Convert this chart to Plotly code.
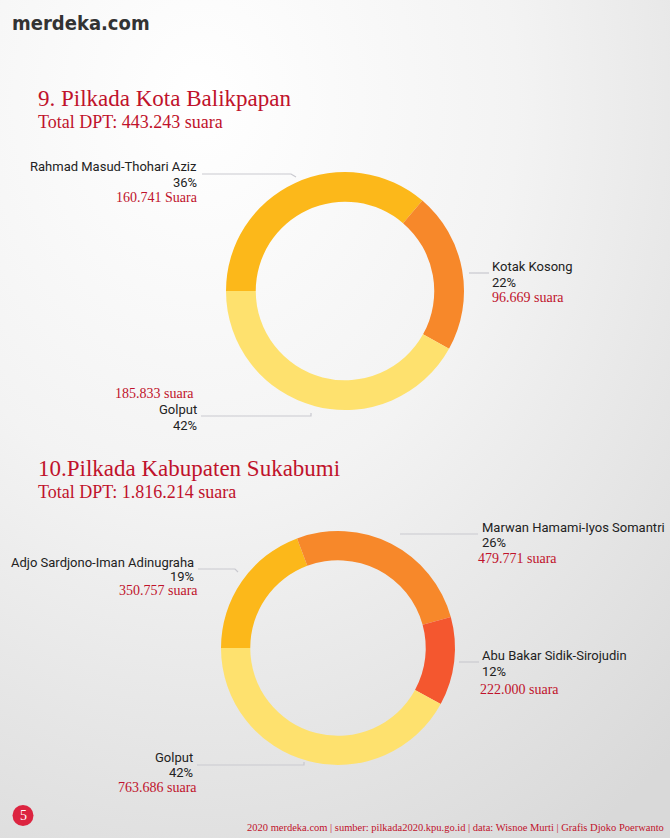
import base64
import plotly.graph_objects as go

# ---------------- data ----------------
kota_title = "9. Pilkada Kota Balikpapan"
kota_labels = ["Rahmad Masud-Thohari Aziz", "Kotak Kosong", "Golput"]
kota_votes = [160741, 96669, 185833]
kota_suffix = ["Suara", "suara", "suara"]
kota_colors = ["#FCB81A", "#F7882A", "#FEE16E"]

suka_title = "10.Pilkada Kabupaten Sukabumi"
suka_labels = ["Adjo Sardjono-Iman Adinugraha", "Marwan Hamami-Iyos Somantri",
               "Abu Bakar Sidik-Sirojudin", "Golput"]
suka_votes = [350757, 479771, 222000, 763686]
suka_suffix = ["suara", "suara", "suara", "suara"]
suka_colors = ["#FCB81A", "#F7882A", "#F4572F", "#FEE16E"]

footer_text = ("2020 merdeka.com | sumber: pilkada2020.kpu.go.id | data: Wisnoe Murti | "
               "Grafis Djoko Poerwanto")
page_number = "5"

# ---------------- helpers ----------------
W, H = 670, 838
RED = "#C0122B"
DARK = "#222222"
SANS = "Roboto, Inter, Noto Sans, sans-serif"
SERIF = "Liberation Serif, DejaVu Serif, serif"
LAB = 13
VOTE = 14


def fx(px):
    return px / W


def fy(py):
    return 1 - py / H


def fmt(v):
    return f"{v:,}".replace(",", ".")


def pct(values):
    t = sum(values)
    return [f"{round(v * 100 / t)}%" for v in values]


annotations = []
shapes = []


def txt(text, x, y, anchor, size, color, family):
    annotations.append(dict(text=text, x=fx(x), y=fy(y), xref="paper", yref="paper",
                            xanchor=anchor, yanchor="middle", showarrow=False,
                            borderpad=0, font=dict(size=size, color=color, family=family)))


def leader(points):
    path = "M " + " L ".join(f"{fx(x)},{fy(y)}" for x, y in points)
    shapes.append(dict(type="path", path=path, xref="paper", yref="paper",
                       line=dict(color="#C9C9CF", width=1.2)))


def domain(cx, cy, r):
    return dict(x=[fx(cx - r), fx(cx + r)], y=[fy(cy + r), fy(cy - r)])


fig = go.Figure()

fig.add_trace(go.Pie(labels=kota_labels, values=kota_votes, hole=0.75, sort=False,
                     direction="clockwise", rotation=270, textinfo="none",
                     hoverinfo="label+value+percent",
                     marker=dict(colors=kota_colors, line=dict(width=0)),
                     domain=domain(345, 291, 119), showlegend=False))

fig.add_trace(go.Pie(labels=suka_labels, values=suka_votes, hole=0.75, sort=False,
                     direction="clockwise", rotation=270, textinfo="none",
                     hoverinfo="label+value+percent",
                     marker=dict(colors=suka_colors, line=dict(width=0)),
                     domain=domain(338, 648, 117), showlegend=False))

# header logo
txt("<b>merdeka.com</b>", 11, 23, "left", 20, "#333333",
    "DejaVu Sans Condensed, sans-serif")

# titles
txt(kota_title, 37, 99, "left", 23, RED, SERIF)
txt(f"Total DPT: {fmt(sum(kota_votes))} suara", 37, 122, "left", 18, RED, SERIF)
txt(suka_title, 37, 468, "left", 23, RED, SERIF)
txt(f"Total DPT: {fmt(sum(suka_votes))} suara", 37, 492, "left", 18, RED, SERIF)

kp = pct(kota_votes)
sp = pct(suka_votes)

# Balikpapan labels
txt(kota_labels[0], 198, 167, "right", LAB, DARK, SANS)
txt(kp[0], 198, 182.5, "right", LAB, DARK, SANS)
txt(f"{fmt(kota_votes[0])} {kota_suffix[0]}", 199, 197.5, "right", VOTE, RED, SERIF)
leader([(202, 174), (291, 174), (296, 177)])

txt(kota_labels[1], 491, 266, "left", LAB, DARK, SANS)
txt(kp[1], 491, 282, "left", LAB, DARK, SANS)
txt(f"{fmt(kota_votes[1])} {kota_suffix[1]}", 491, 297.5, "left", VOTE, RED, SERIF)
leader([(469, 273), (489, 273)])

txt(f"{fmt(kota_votes[2])} {kota_suffix[2]}", 195, 393, "right", VOTE, RED, SERIF)
txt(kota_labels[2], 198, 409, "right", LAB, DARK, SANS)
txt(kp[2], 198, 425, "right", LAB, DARK, SANS)
leader([(201, 416), (311, 416), (311, 413)])

# Sukabumi labels
txt(suka_labels[0], 195, 562, "right", LAB, DARK, SANS)
txt(sp[0], 195, 576.5, "right", LAB, DARK, SANS)
txt(f"{fmt(suka_votes[0])} {suka_suffix[0]}", 199, 590.5, "right", VOTE, RED, SERIF)
leader([(198, 569), (235, 569), (238, 572)])

txt(suka_labels[1], 481, 527, "left", LAB, DARK, SANS)
txt(sp[1], 481, 542.5, "left", LAB, DARK, SANS)
txt(f"{fmt(suka_votes[1])} {suka_suffix[1]}", 477, 558, "left", VOTE, RED, SERIF)
leader([(400, 534), (478, 534)])

txt(suka_labels[2], 481, 655, "left", LAB, DARK, SANS)
txt(sp[2], 481, 671.5, "left", LAB, DARK, SANS)
txt(f"{fmt(suka_votes[2])} {suka_suffix[2]}", 479, 689, "left", VOTE, RED, SERIF)
leader([(459, 662), (479, 662)])

txt(suka_labels[3], 194, 757, "right", LAB, DARK, SANS)
txt(sp[3], 194, 772, "right", LAB, DARK, SANS)
txt(f"{fmt(suka_votes[3])} {suka_suffix[3]}", 198, 787, "right", VOTE, RED, SERIF)
leader([(197, 765), (304, 765), (304, 762)])

# footer
shapes.append(dict(type="circle", xref="paper", yref="paper",
                   x0=fx(12.5), x1=fx(33.5), y0=fy(826), y1=fy(805),
                   fillcolor="#DC2440", line=dict(width=0)))
txt(page_number, 23, 815.5, "center", 14, "white", SERIF)
txt(footer_text, 665, 827, "right", 10.5, RED, SERIF)

svg = (f"<svg xmlns='http://www.w3.org/2000/svg' width='{W}' height='{H}'>"
       "<defs><radialGradient id='g' cx='0.3' cy='0.12' r='1.05'>"
       "<stop offset='0' stop-color='#ffffff'/><stop offset='0.45' stop-color='#f3f3f3'/>"
       "<stop offset='1' stop-color='#d9d9d9'/></radialGradient></defs>"
       f"<rect width='{W}' height='{H}' fill='url(#g)'/></svg>")
src = "data:image/svg+xml;base64," + base64.b64encode(svg.encode()).decode()

fig.update_layout(
    width=W, height=H,
    margin=dict(l=0, r=0, t=0, b=0),
    paper_bgcolor="#f0f0f0", plot_bgcolor="rgba(0,0,0,0)",
    annotations=annotations, shapes=shapes,
    images=[dict(source=src, xref="paper", yref="paper", x=0, y=1, sizex=1, sizey=1,
                 xanchor="left", yanchor="top", sizing="stretch", layer="below")],
)

fig.write_html("out.html", config={"displayModeBar": False})
